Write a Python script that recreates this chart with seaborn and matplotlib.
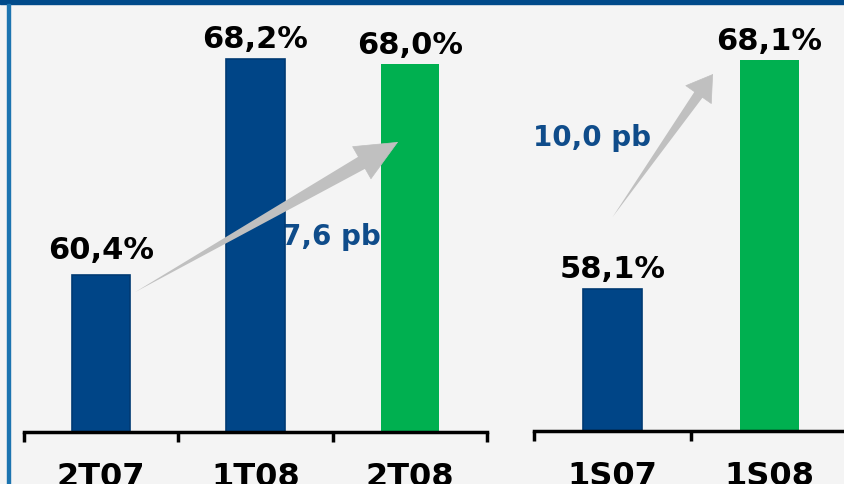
"""
Efficiency ratio chart: quarterly (left) and half-year (right) bars
with gray growth arrows and basis-point annotations.
"""

import matplotlib.pyplot as plt
from matplotlib.patches import Rectangle
import seaborn as sns

# ── Data ──────────────────────────────────────────────────────────────────────
quarter_labels = ["2T07", "1T08", "2T08"]
quarter_values = [60.4, 68.2, 68.0]
quarter_colors = ["#004587", "#004587", "#00b050"]

half_labels = ["1S07", "1S08"]
half_values = [58.1, 68.1]
half_colors = ["#004587", "#00b050"]

quarter_delta = "7,6 pb"
half_delta = "10,0 pb"

BG = "#f4f4f4"
ARROW = "#c0c0c0"
NOTE_BLUE = "#0f4c8a"


def pct(v):
    return f"{v:.1f}%".replace(".", ",")


def style_axis(ax, n, ylim):
    """Bottom spine only, boundary ticks, bold category labels."""
    ax.set_facecolor("none")
    ax.set_xlim(-0.5, n - 0.5)
    ax.set_ylim(*ylim)
    ax.set_yticks([])
    ax.set_xlabel("")
    ax.set_ylabel("")
    for side in ["left", "top", "right"]:
        ax.spines[side].set_visible(False)
    ax.spines["bottom"].set_linewidth(2.5)
    ax.spines["bottom"].set_color("black")
    ax.set_xticks([i - 0.5 for i in range(n + 1)], minor=True)
    ax.tick_params(axis="x", which="minor", bottom=True, length=7, width=2.5,
                   direction="out", color="black")
    ax.tick_params(axis="x", which="major", bottom=True, length=0, pad=21,
                   labelsize=23, labelcolor="black")
    for lbl in ax.get_xticklabels():
        lbl.set_fontweight("bold")


def draw_bars(ax, labels, values, colors, pads):
    sns.barplot(x=labels, y=values, hue=labels, palette=colors,
                saturation=1, width=0.38, legend=False, ax=ax, zorder=2,
                linewidth=0)
    for patch, col in zip(ax.patches, colors):
        if col == "#004587":
            patch.set_edgecolor("#003a73")
            patch.set_linewidth(1.2)
    for i, (v, p) in enumerate(zip(values, pads)):
        ax.annotate(pct(v), xy=(i, v), xytext=(0, p),
                    textcoords="offset points", ha="center", va="bottom",
                    fontsize=22, fontweight="bold", color="black",
                    zorder=5)


def draw_arrow(ax, tail, tip, frac, shaft, head_len, head_half):
    """Tapered gray arrow: wedge shaft + filled triangular head."""
    base = (tip[0] - frac * (tip[0] - tail[0]),
            tip[1] - frac * (tip[1] - tail[1]))
    ax.annotate("", xy=tail, xytext=base, zorder=4,
                arrowprops=dict(arrowstyle=f"wedge,tail_width={shaft},shrink_factor=0.5",
                                color=ARROW, mutation_scale=1,
                                shrinkA=0, shrinkB=0, lw=0))
    ax.annotate("", xy=tip, xytext=base, zorder=4,
                arrowprops=dict(arrowstyle=f"-|>,head_length={head_len},head_width={head_half}",
                                color=ARROW, mutation_scale=1,
                                shrinkA=0, shrinkB=0, lw=0.5))


# ── Figure ────────────────────────────────────────────────────────────────────
sns.set_style("white")
plt.rcParams["font.family"] = ["DejaVu Sans"]

fig = plt.figure(figsize=(8.44, 4.85), dpi=100, facecolor=BG)

# frame decoration: dark top band + thin left rule
fig.patches.append(Rectangle((0, 1 - 5 / 485), 1, 5 / 485,
                             transform=fig.transFigure, color="#004a8a",
                             zorder=0))
fig.patches.append(Rectangle((7 / 844, 0), 2.5 / 844, 1 - 5 / 485,
                             transform=fig.transFigure, color="#1c74b0",
                             zorder=0))

ax1 = fig.add_axes([24 / 844, 52 / 485, 463 / 844, 428 / 485])
ax2 = fig.add_axes([534 / 844, 53 / 485, 314 / 844, 427 / 485])

draw_bars(ax1, quarter_labels, quarter_values, quarter_colors, [8, 4, 4])
style_axis(ax1, len(quarter_labels), (54.73, 70.18))

draw_bars(ax2, half_labels, half_values, half_colors, [4, 4])
style_axis(ax2, len(half_labels), (51.9, 70.55))

# growth arrows
draw_arrow(ax1, (0.22, 59.78), (1.924, 65.2), 0.135, 10, 29.5, 13.3)
draw_arrow(ax2, (0.0, 61.24), (0.64, 67.49), 0.14, 7.2, 17.6, 11.2)

# basis-point notes (quarter note sits behind the 1T08 bar)
ax1.text(1.49, 61.8, quarter_delta, ha="center", va="center",
         fontsize=20, fontweight="bold", color=NOTE_BLUE, zorder=1)
ax2.text(-0.13, 64.74, half_delta, ha="center", va="center",
         fontsize=20, fontweight="bold", color=NOTE_BLUE, zorder=3)

fig.savefig("out.png", dpi=100, facecolor=BG)
